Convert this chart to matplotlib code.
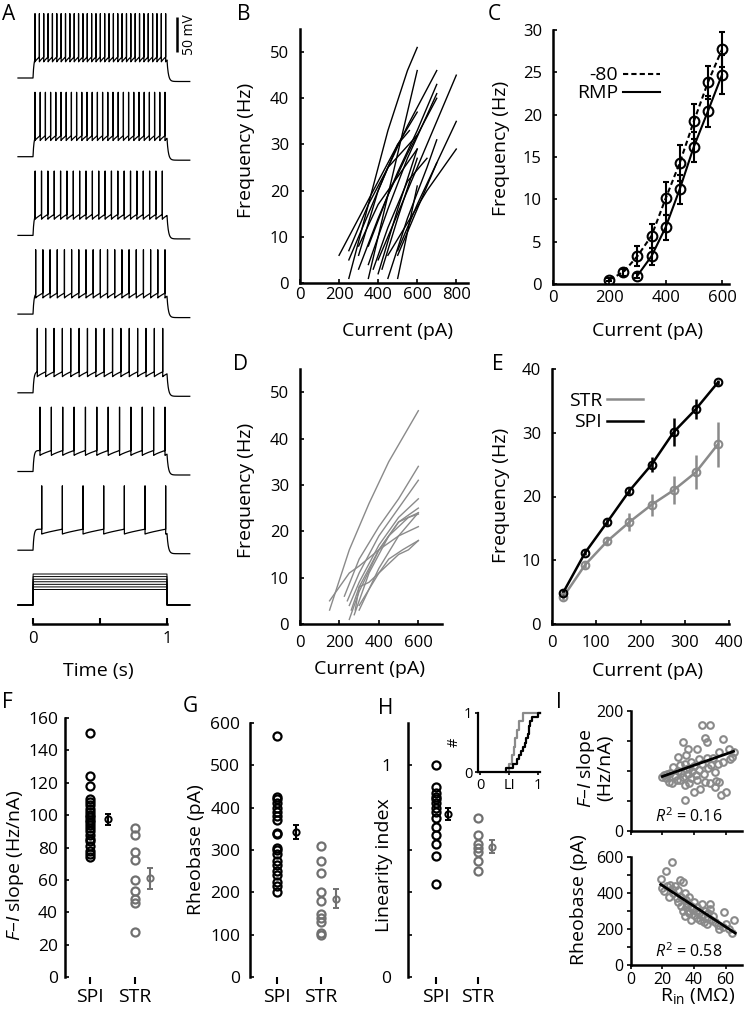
import numpy as np
import matplotlib
matplotlib.use('Agg')
import matplotlib.pyplot as plt

plt.rcParams['font.family'] = ['Open Sans', 'DejaVu Sans']
plt.rcParams['mathtext.fontset'] = 'custom'
plt.rcParams['mathtext.rm'] = 'Open Sans'
plt.rcParams['mathtext.it'] = 'Open Sans:italic'
plt.rcParams['mathtext.bf'] = 'Open Sans:bold'

# ---------------- DATA ----------------
# Panel A: example traces (spike count, first / last spike time in s)
A_spike_counts = [31, 26, 21, 19, 16, 12, 7]
A_first_spike = [0.015, 0.015, 0.016, 0.020, 0.032, 0.052, 0.065]
A_last_spike = [0.990, 0.985, 0.965, 0.985, 0.968, 0.985, 0.990]
A_stim_pA = [300, 350, 400, 450, 500, 550, 600]

# Panel B: individual F-I curves (SPI)
B_cur = [
    [200, 300, 400, 500, 600],
    [250, 350, 450, 550, 600],
    [250, 350, 450, 550, 700],
    [250, 350, 450, 600],
    [300, 400, 500, 600, 700],
    [300, 400, 500, 600],
    [350, 400, 500, 600],
    [350, 450, 550, 700],
    [350, 450, 550, 700],
    [400, 500, 600],
    [400, 500, 600, 700, 800],
    [375, 450, 550, 650],
    [450, 550, 650, 700],
    [450, 550, 650, 800],
    [500, 550, 600],
    [500, 600, 700, 800],
    [500, 600, 700],
    [420, 500, 600],
    [300, 400, 500, 560],
]
B_freq = [
    [6, 14, 22, 30, 37],
    [1, 17, 33, 46, 51],
    [5, 15, 25, 34, 46],
    [7, 17, 25, 32],
    [3, 14, 24, 33, 43],
    [8, 17, 23, 29],
    [1, 10, 28, 46],
    [4, 16, 27, 41],
    [8, 19, 28, 40],
    [2, 16, 29],
    [5, 15, 25, 35, 45],
    [3, 12, 22, 27],
    [1, 14, 25, 31],
    [6, 13, 20, 29],
    [1, 11, 21],
    [6, 16, 26, 35],
    [7, 17, 26],
    [3, 14, 27],
    [6, 20, 30, 33],
]

# Panel C: mean F-I at -80 mV and at RMP
C_cur_80 = [200, 250, 300, 350, 400, 450, 500, 550, 600]
C_f_80 = [0.5, 1.4, 3.3, 5.7, 10.1, 14.3, 19.2, 23.8, 27.7]
C_e_80 = [0.2, 0.4, 1.2, 1.4, 1.9, 2.1, 2.1, 2.0, 2.1]
C_cur_rmp = [300, 350, 400, 450, 500, 550, 600]
C_f_rmp = [1.0, 3.3, 6.7, 11.2, 16.2, 20.4, 24.7]
C_e_rmp = [0.3, 1.0, 1.5, 1.7, 1.8, 1.8, 2.3]

# Panel D: individual F-I curves (STR)
D_cur = [
    [150, 250, 350, 450, 600],
    [150, 250, 300, 400, 500, 600],
    [225, 300, 400, 500, 600],
    [240, 300, 400, 500, 600],
    [250, 300, 400, 500, 600],
    [260, 300, 400, 500, 600],
    [250, 300, 400, 500, 600],
    [280, 300, 350, 400, 500, 550, 600],
    [300, 400, 500, 600],
    [275, 350, 450, 550, 600],
    [300, 400, 450, 520, 600],
]
D_freq = [
    [3, 16, 26, 35, 46],
    [5, 11, 12.5, 16, 19, 21],
    [6, 14, 21, 27, 34],
    [5, 11, 19, 25, 31],
    [4, 9, 17, 23, 27],
    [3, 8, 16, 22, 25],
    [1, 7, 16, 22, 24],
    [3, 8, 9, 11, 15, 16, 18],
    [3, 12, 19, 24],
    [2, 11, 19, 23, 23.7],
    [4, 11, 14, 16, 18],
]

# Panel E: mean F-I, SPI vs STR
E_cur = [25, 75, 125, 175, 225, 275, 325, 375]
E_spi = [4.9, 11.2, 16.0, 20.9, 25.0, 30.1, 33.7, 37.9]
E_spi_err = [0.4, 0.4, 0.4, 0.5, 1.2, 2.2, 1.6, 0.4]
E_str = [4.2, 9.3, 13.0, 16.0, 18.7, 21.0, 23.8, 28.2]
E_str_err = [0.5, 0.5, 0.6, 1.4, 1.7, 2.2, 2.7, 3.5]

groups = ['SPI', 'STR']
# Panel F: F-I slope
F_SPI = [151, 124, 118, 110, 108, 106, 104, 102, 100, 99, 97, 96, 94, 92, 90,
         88, 85, 84, 81, 78, 76, 74]
F_STR = [92, 88, 77, 72, 60, 53, 48, 46, 28]
F_mean = [97.5, 61.0]
F_sem = [3.5, 6.5]
# Panel G: rheobase
G_SPI = [570, 425, 420, 410, 400, 390, 380, 370, 340, 338, 305, 300, 290, 275,
         265, 250, 240, 225, 215, 200]
G_STR = [310, 275, 245, 200, 180, 150, 140, 130, 105, 100]
G_mean = [342, 185]
G_sem = [16, 22]
# Panel H: linearity index
H_SPI = [1.0, 0.9, 0.87, 0.85, 0.84, 0.82, 0.80, 0.78, 0.75, 0.71, 0.67, 0.63,
         0.57, 0.44]
H_STR = [0.75, 0.67, 0.63, 0.61, 0.59, 0.55, 0.50]
H_mean = [0.77, 0.615]
H_sem = [0.03, 0.03]

# Panel I: correlations with input resistance
I_top_rin = [20, 21, 22, 23, 24, 25, 26, 27, 28, 29, 30, 30, 31, 31, 32, 33, 33,
             34, 34, 34, 35, 35, 36, 36, 37, 37, 38, 38, 39, 40, 40, 41, 42, 42,
             43, 43, 44, 45, 45, 46, 47, 47, 48, 48, 49, 50, 50, 51, 52, 53, 53,
             54, 55, 56, 56, 57, 58, 58, 60, 62, 63, 64, 65]
I_top_slope = [90, 93, 88, 95, 82, 97, 79, 107, 92, 85, 123, 100, 109, 84, 96,
               148, 90, 112, 77, 52, 103, 126, 137, 95, 104, 79, 115, 88, 99, 65,
               108, 93, 137, 84, 119, 101, 70, 176, 112, 95, 154, 82, 148, 122,
               104, 176, 79, 110, 122, 73, 98, 83, 112, 132, 82, 60, 153, 115, 64,
               137, 120, 123, 131]
I_top_fit = (0.93, 71.8)
I_top_r2 = 0.16
I_bot_rin = [19, 20, 21, 22, 23, 24, 25, 26, 26, 27, 28, 29, 30, 30, 31, 32, 32,
             33, 33, 34, 34, 35, 35, 36, 36, 37, 37, 38, 38, 39, 40, 40, 41, 42,
             42, 43, 44, 45, 45, 46, 47, 48, 48, 49, 50, 50, 51, 52, 53, 55, 56,
             58, 59, 60, 62, 64, 65]
I_bot_rheo = [480, 430, 410, 525, 440, 380, 445, 570, 420, 400, 440, 370, 415,
              350, 470, 380, 330, 460, 300, 400, 275, 360, 320, 340, 300, 380,
              290, 250, 330, 310, 280, 350, 300, 320, 260, 290, 250, 340, 270,
              240, 300, 260, 230, 290, 340, 310, 250, 270, 240, 220, 200, 210,
              295, 230, 200, 180, 250]
I_bot_fit = (-5.745, 556.6)
I_bot_r2 = 0.58

# ---------------- FIGURE ----------------
W, H = 744, 1018
fig = plt.figure(figsize=(W / 100, H / 100), dpi=100)
GREY = '#8a8a8a'
GREY2 = '#707070'
TL = 12      # tick label size
AL = 14      # axis label size

RECTS = {}


def add_ax(l, t, r, b):
    ax = fig.add_axes([l / W, 1 - b / H, (r - l) / W, (b - t) / H])
    RECTS[ax] = (l, t, r, b)
    return ax


def style(ax, lw=1.8):
    for s in ['top', 'right']:
        ax.spines[s].set_visible(False)
    for s in ['left', 'bottom']:
        ax.spines[s].set_linewidth(lw)
    ax.tick_params(direction='in', length=3, width=1.2, labelsize=TL,
                   colors='black')


def xlabel_px(ax, text, xc, ytop, size=AL):
    l, t, r, b = RECTS[ax]
    ax.set_xlabel(text, fontsize=size)
    ax.xaxis.set_label_coords((xc - l) / (r - l), (b - ytop) / (b - t))


def ylabel_px(ax, text, xright, yc, size=AL, **kw):
    l, t, r, b = RECTS[ax]
    ax.set_ylabel(text, fontsize=size, **kw)
    ax.yaxis.set_label_coords((xright - l) / (r - l), (b - yc) / (b - t))


def letter(txt, x, y):
    fig.text(x / W, 1 - y / H, txt, fontsize=15, ha='left', va='center')


# ---- Panel A ----
axA = add_ax(15, 5, 195, 624)
mv_per_px = 50 / 35.0
v_rest = -70.0
trace_step = 78.7 * mv_per_px
axA.set_xlim((15 - 33) / 134.0, (195 - 33) / 134.0)
axA.set_ylim(v_rest - (624 - 78) * mv_per_px, v_rest + (78 - 5) * mv_per_px)
t = np.arange(-0.112, 1.17, 0.0002)


def membrane(n, t_first, t_last, v_ahp=-47.0, v_thr=-40.0, v_peak=22.0):
    v = np.full_like(t, v_rest)
    spikes = np.linspace(t_first, t_last, n)
    m = (t >= 0) & (t < spikes[0])
    v[m] = v_rest + (v_thr - v_rest) * (1 - np.exp(-t[m] / 0.007))
    isi_default = spikes[-1] - spikes[-2] if n > 1 else 0.1
    for i, ts in enumerate(spikes):
        t_next = spikes[i + 1] if i + 1 < n else 1.0
        isi = spikes[i + 1] - ts if i + 1 < n else isi_default
        m = (t >= ts) & (t < t_next)
        s = np.clip((t[m] - ts) / isi, 0, 1)
        v[m] = v_ahp + (v_thr - v_ahp) * s ** 0.8
        v[np.searchsorted(t, ts)] = v_peak
    m = t >= 1.0
    v_end = v[np.searchsorted(t, 1.0) - 1]
    v_low = v_rest - 5.0
    v[m] = v_low + (v_end - v_low) * np.exp(-(t[m] - 1.0) / 0.01)
    return v


for k in range(len(A_spike_counts)):
    v = membrane(A_spike_counts[k], A_first_spike[k], A_last_spike[k])
    axA.plot(t, v - k * trace_step, color='black', lw=0.9)

stim_base = v_rest - (605 - 78) * mv_per_px
stim_scale = 0.0738
for lev in A_stim_pA:
    i_t = np.where((t >= 0) & (t <= 1.0), lev, 0.0)
    axA.plot(t, stim_base + i_t * stim_scale, color='black', lw=0.7)

scale_mv = 50
axA.plot([1.075, 1.075], [-33, -33 + scale_mv], color='black', lw=1.8,
         solid_capstyle='butt')
axA.text(1.168, -33 + scale_mv / 2, '50 mV', rotation=90, fontsize=10,
         ha='center', va='center')
for s in ['top', 'right', 'left']:
    axA.spines[s].set_visible(False)
axA.spines['bottom'].set_linewidth(1.8)
axA.spines['bottom'].set_bounds(0, 1)
axA.set_yticks([])
axA.set_xticks([0, 0.5, 1])
axA.set_xticklabels(['0', '', '1'])
axA.tick_params(axis='x', direction='in', length=4, width=1.5, labelsize=TL,
                pad=5)
xlabel_px(axA, 'Time (s)', 98, 662)
letter('A', 2, 15)

# ---- Panel B ----
axB = add_ax(300, 29, 468, 283)
style(axB)
for cur, fr in zip(B_cur, B_freq):
    axB.plot(cur, fr, color='black', lw=1.0)
axB.set_xlim(0, 860)
axB.set_ylim(0, 55)
axB.set_xticks([0, 200, 400, 600, 800])
axB.set_yticks([0, 10, 20, 30, 40, 50])
axB.tick_params(axis='x', pad=3)
axB.tick_params(axis='y', pad=8)
ylabel_px(axB, 'Frequency (Hz)', 255, 150)
xlabel_px(axB, 'Current (pA)', 397, 322)
letter('B', 237, 14)

# ---- Panel C ----
axC = add_ax(553, 30, 729, 284)
style(axC)
ln80, = axC.plot(C_cur_80, C_f_80, color='black', lw=1.5,
                 linestyle=(0, (2.5, 1.5)))
lnrmp, = axC.plot(C_cur_rmp, C_f_rmp, color='black', lw=1.5)
axC.errorbar(C_cur_80, C_f_80, yerr=C_e_80, fmt='o', ms=7, mfc='none',
             mec='black', mew=1.5, ecolor='black', elinewidth=1.5, capsize=2.5,
             capthick=1.5)
axC.errorbar(C_cur_rmp, C_f_rmp, yerr=C_e_rmp, fmt='o', ms=7, mfc='none',
             mec='black', mew=1.5, ecolor='black', elinewidth=1.5, capsize=2.5,
             capthick=1.5)
axC.set_xlim(0, 625)
axC.set_ylim(0, 30)
axC.set_xticks([0, 200, 400, 600])
axC.set_yticks([0, 5, 10, 15, 20, 25, 30])
axC.tick_params(axis='x', pad=4)
axC.tick_params(axis='y', pad=8)
ylabel_px(axC, 'Frequency (Hz)', 510, 148)
xlabel_px(axC, 'Current (pA)', 648, 322)
axC.legend([ln80, lnrmp], ['-80', 'RMP'], markerfirst=False, frameon=False,
           fontsize=14, handlelength=1.9, handletextpad=0.25,
           labelspacing=0.0, borderpad=0, borderaxespad=0,
           loc='center right', bbox_to_anchor=((660 - 553) / 176.0,
                                               (284 - 84.5) / 254.0))
letter('C', 488, 14)

# ---- Panel D ----
axD = add_ax(300, 369, 442, 624)
style(axD)
for cur, fr in zip(D_cur, D_freq):
    axD.plot(cur, fr, color=GREY, lw=1.0)
axD.set_xlim(0, 720)
axD.set_ylim(0, 55)
axD.set_xticks([0, 200, 400, 600])
axD.set_yticks([0, 10, 20, 30, 40, 50])
axD.tick_params(axis='x', pad=8)
axD.tick_params(axis='y', pad=8)
ylabel_px(axD, 'Frequency (Hz)', 255, 490)
xlabel_px(axD, 'Current (pA)', 370, 660)
letter('D', 233, 364)

# ---- Panel E ----
axE = add_ax(552, 369, 729, 624)
style(axE)
ln_str, = axE.plot(E_cur, E_str, color=GREY, lw=1.8)
ln_spi, = axE.plot(E_cur, E_spi, color='black', lw=1.8)
axE.errorbar(E_cur, E_str, yerr=E_str_err, fmt='o', ms=5.5, mfc='none',
             mec=GREY, mew=1.5, ecolor=GREY, elinewidth=1.8, capsize=0)
axE.errorbar(E_cur, E_spi, yerr=E_spi_err, fmt='o', ms=5.5, mfc='none',
             mec='black', mew=1.5, ecolor='black', elinewidth=1.8, capsize=0)
axE.set_xlim(0, 400)
axE.set_ylim(0, 40)
axE.set_xticks([0, 100, 200, 300, 400])
axE.set_yticks([0, 10, 20, 30, 40])
axE.tick_params(axis='x', pad=8)
axE.tick_params(axis='y', pad=8)
ylabel_px(axE, 'Frequency (Hz)', 510, 495)
xlabel_px(axE, 'Current (pA)', 647, 662)
axE.legend([ln_str, ln_spi], ['STR', 'SPI'], markerfirst=False, frameon=False,
           fontsize=14, handlelength=1.85, handletextpad=0.25,
           labelspacing=0.18, borderpad=0, borderaxespad=0,
           loc='center right', bbox_to_anchor=((643 - 552) / 177.0,
                                               (624 - 411.7) / 255.0))
letter('E', 492, 365)


# ---- Panels F, G, H ----
def dot_panel(ax, spi, strv, mean, sem, mean_off, color_str=GREY2, ms=5.8):
    style(ax)
    ax.plot([1] * len(spi), spi, 'o', ms=ms, mfc='none', mec='black', mew=1.6)
    ax.plot([2] * len(strv), strv, 'o', ms=ms, mfc='none', mec=color_str,
            mew=1.6)
    ax.errorbar([1 + mean_off[0]], [mean[0]], yerr=[sem[0]], fmt='o', ms=4.5,
                mfc='none', mec='black', mew=1.4, ecolor='black',
                elinewidth=1.5, capsize=2, capthick=1.3)
    ax.errorbar([2 + mean_off[1]], [mean[1]], yerr=[sem[1]], fmt='o', ms=4.5,
                mfc='none', mec=color_str, mew=1.4, ecolor=color_str,
                elinewidth=1.5, capsize=2, capthick=1.3)
    ax.spines['bottom'].set_visible(False)
    ax.set_xticks([1, 2])
    ax.set_xticklabels(groups)
    ax.tick_params(axis='x', direction='out', length=5, width=1.5,
                   labelsize=14, pad=3)


axF = add_ax(65, 718, 170, 977)
dot_panel(axF, F_SPI, F_STR, F_mean, F_sem, (0.4, 0.33))
axF.set_xlim(1 - 25 / 45.0, 1 + 80 / 45.0)
axF.set_ylim(0, 160)
axF.set_yticks(np.arange(0, 161, 20))
axF.tick_params(axis='y', pad=5, labelsize=12.5)
ylabel_px(axF, '$F$–$I$ slope (Hz/nA)', 26, 865)
letter('F', 2, 703)

axG = add_ax(250, 723, 350, 977)
dot_panel(axG, G_SPI, G_STR, G_mean, G_sem, (0.43, 0.33))
axG.set_xlim(1 - 27 / 44.0, 1 + 73 / 44.0)
axG.set_ylim(0, 600)
axG.set_yticks(np.arange(0, 601, 100))
axG.tick_params(axis='y', pad=7, labelsize=12.5)
ylabel_px(axG, 'Rheobase (pA)', 205, 850)
letter('G', 183, 706)

axH = add_ax(408, 723, 510, 977)
dot_panel(axH, H_SPI, H_STR, H_mean, H_sem, (0.29, 0.34))
axH.set_xlim(1 - 28 / 42.0, 1 + 74 / 42.0)
axH.set_ylim(0, 1.2)
axH.set_yticks([0, 0.2, 0.4, 0.6, 0.8, 1.0])
axH.set_yticklabels(['0', '', '', '', '', '1'])
axH.tick_params(axis='y', pad=12, labelsize=12.5)
ylabel_px(axH, 'Linearity index', 393, 865)
letter('H', 378, 708)

# inset: cumulative distributions
axHi = add_ax(478, 713, 540, 772)
style(axHi, lw=1.6)
for vals, col in [(H_STR, GREY), (H_SPI, 'black')]:
    xs = np.sort(np.array(vals))
    ys = np.arange(1, len(xs) + 1) / len(xs)
    axHi.step(np.concatenate([[xs[0]], xs, [1.035]]),
              np.concatenate([[0], ys, [1]]), where='post', color=col, lw=1.6,
              clip_on=False)
axHi.set_xlim(-0.035, 1.035)
axHi.set_ylim(0, 1)
axHi.set_xticks([0, 0.5, 1])
axHi.set_xticklabels(['0', 'LI', '1'])
axHi.set_yticks([0, 1])
axHi.set_yticklabels(['0', '1'])
axHi.tick_params(labelsize=10.5, direction='out', length=2.5, width=1.2,
                 pad=1.5)
axHi.set_ylabel('#', fontsize=10.5, labelpad=2)

# ---- Panel I ----
axIt = add_ax(630.7, 710.7, 741.5, 830.7)
style(axIt)
axIt.plot(I_top_rin, I_top_slope, 'o', ms=4.8, mfc='none', mec=GREY, mew=1.5,
          clip_on=False)
xr = np.array([min(I_top_rin), max(I_top_rin)])
axIt.plot(xr, I_top_fit[0] * xr + I_top_fit[1], color='black', lw=2)
axIt.set_xlim(0, 70)
axIt.set_ylim(0, 200)
axIt.set_xticks([0, 20, 40, 60])
axIt.set_xticklabels([])
axIt.set_yticks([0, 50, 100, 150, 200])
axIt.set_yticklabels(['0', '', '', '', '200'])
axIt.tick_params(direction='out', length=3, labelsize=11.5, pad=2)
axIt.text(0.52, 0.04, '$R^2$ = %.2f' % I_top_r2, transform=axIt.transAxes,
          ha='center', va='bottom', fontsize=11.5)
ylabel_px(axIt, '$F$–$I$ slope\n(Hz/nA)', 614, 768, linespacing=0.95)
letter('I', 556, 702)

axIb = add_ax(630.7, 857, 741.5, 965)
style(axIb)
axIb.plot(I_bot_rin, I_bot_rheo, 'o', ms=4.8, mfc='none', mec=GREY, mew=1.5,
          clip_on=False)
xr = np.array([min(I_bot_rin), max(I_bot_rin) + 1])
axIb.plot(xr, I_bot_fit[0] * xr + I_bot_fit[1], color='black', lw=2)
axIb.set_xlim(0, 70)
axIb.set_ylim(0, 600)
axIb.set_xticks([0, 20, 40, 60])
axIb.set_yticks(np.arange(0, 601, 100))
axIb.set_yticklabels(['0', '', '200', '', '400', '', '600'])
axIb.tick_params(direction='out', length=3, labelsize=11.5, pad=2)
axIb.text(0.52, 0.04, '$R^2$ = %.2f' % I_bot_r2, transform=axIb.transAxes,
          ha='center', va='bottom', fontsize=11.5)
ylabel_px(axIb, 'Rheobase (pA)', 588, 900)
xlabel_px(axIb, r'R$_{\rm in}$ (MΩ)', 698, 986)

fig.savefig('out.png', dpi=100)
